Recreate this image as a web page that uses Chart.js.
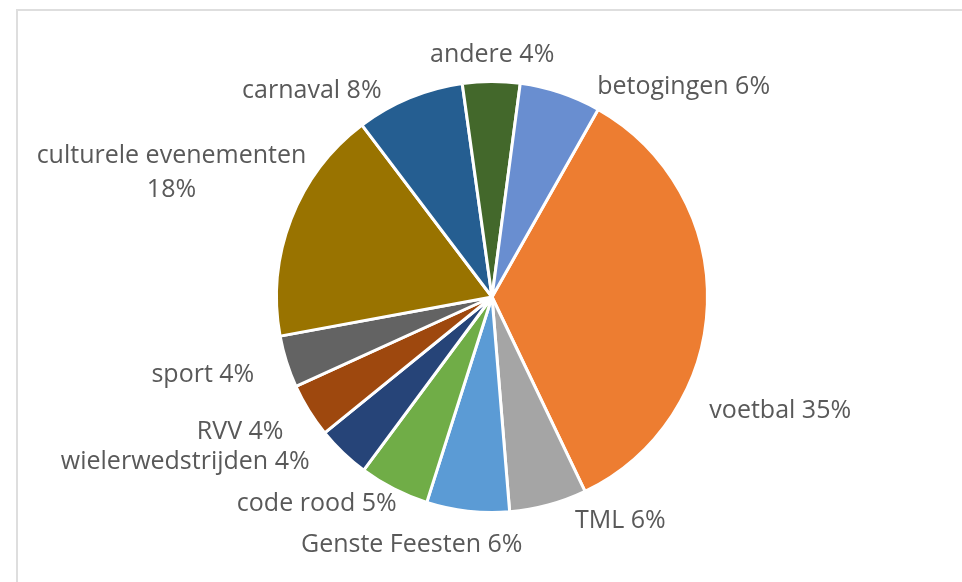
<!DOCTYPE html>
<html>
<head>
<meta charset="utf-8">
<script src="https://cdn.jsdelivr.net/npm/chart.js@4"></script>
<style>
  html, body { margin: 0; padding: 0; background: #ffffff; }
  #wrap { width: 962px; height: 582px; }
</style>
</head>
<body>
<div id="wrap"><canvas id="c" width="962" height="582"></canvas></div>
<script>
// ---- data ----
const categories = ["voetbal", "TML", "Genste Feesten", "code rood", "wielerwedstrijden", "RVV", "sport", "culturele evenementen", "carnaval", "andere", "betogingen"];
const shares = [34.7, 5.8, 6.2, 5.25, 4.0, 4.05, 3.9, 17.6, 8.1, 4.3, 6.1];
const sliceColors = ["#ED7D31", "#A5A5A5", "#5B9BD5", "#70AD47", "#264478", "#9E480E", "#636363", "#997300", "#255E91", "#43682B", "#698ED0"];
// label nudges relative to the outside-end anchor computed from each arc
const labelNudge = [[-16, 113], [22, 6], [-54, 23], [11, 6], [-21, 3], [-10, 19], [-15, 15], [32, -49], [-21, 17], [1, -2], [31, 18]];
const wrapLabel = [false, false, false, false, false, false, false, true, false, false, false];

const framePlugin = {
  id: 'frame',
  beforeDraw(chart) {
    const ctx = chart.ctx;
    ctx.save();
    ctx.fillStyle = '#ffffff';
    ctx.fillRect(0, 0, chart.width, chart.height);
    ctx.strokeStyle = '#dedede';
    ctx.lineWidth = 2;
    ctx.beginPath();
    ctx.moveTo(17, chart.height);
    ctx.lineTo(17, 10);
    ctx.lineTo(chart.width, 10);
    ctx.stroke();
    ctx.restore();
  }
};

const labelPlugin = {
  id: 'outLabels',
  afterDatasetsDraw(chart) {
    const ctx = chart.ctx;
    const meta = chart.getDatasetMeta(0);
    const data = chart.data.datasets[0].data;
    const total = data.reduce((a, b) => a + b, 0);
    ctx.save();
    ctx.font = '25px "Open Sans"';
    ctx.fillStyle = '#595959';
    ctx.textBaseline = 'alphabetic';
    meta.data.forEach((arc, i) => {
      const p = arc.getProps(['x', 'y', 'startAngle', 'endAngle', 'outerRadius'], true);
      const mid = (p.startAngle + p.endAngle) / 2;
      const R = p.outerRadius + 18;
      const ax = p.x + Math.cos(mid) * R;
      const ay = p.y + Math.sin(mid) * R;
      const c = Math.cos(mid);
      const pct = Math.round(data[i] / total * 100) + '%';
      const lines = wrapLabel[i] ? [chart.data.labels[i], pct] : [chart.data.labels[i] + ' ' + pct];
      const x = ax + labelNudge[i][0];
      const y = ay + labelNudge[i][1];
      const w = Math.max(...lines.map(l => ctx.measureText(l).width));
      let left;
      if (c > 0.2) left = x;
      else if (c < -0.2) left = x - w;
      else left = x - w / 2;
      lines.forEach((l, k) => {
        const lw = ctx.measureText(l).width;
        ctx.textAlign = 'left';
        ctx.fillText(l, left + (w - lw) / 2, y + k * 34);
      });
    });
    ctx.restore();
  }
};

new Chart(document.getElementById('c'), {
  type: 'pie',
  data: {
    labels: categories,
    datasets: [{
      data: shares,
      backgroundColor: sliceColors,
      borderColor: '#ffffff',
      borderWidth: 3
    }]
  },
  options: {
    responsive: false,
    animation: false,
    rotation: 29.5,
    layout: { padding: { top: 80, bottom: 68, left: 22, right: 0 } },
    plugins: {
      legend: { display: false },
      tooltip: { enabled: false }
    }
  },
  plugins: [framePlugin, labelPlugin]
});
</script>
</body>
</html>
